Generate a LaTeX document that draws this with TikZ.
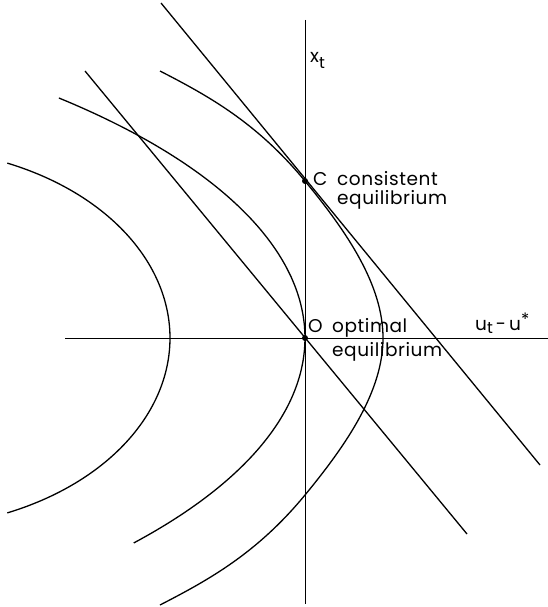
\documentclass[tikz,border=0pt]{standalone}
\usepackage{fontspec}
\setmainfont{Poppins}[LetterSpace=3]
\begin{document}
\begin{tikzpicture}[x=1pt,y=-1pt,
  axis/.style={line width=0.9pt,black},
  curve/.style={line width=1.3pt,black},
  lbl/.style={anchor=base west,inner sep=0pt,font=\fontsize{18.5}{22}\selectfont},
  dotmark/.style={circle,fill=black,inner sep=0pt,minimum size=6pt}]
\useasboundingbox (0,0) rectangle (548,607);
% axes
\coordinate (vtop) at (305,20);
\coordinate (vbot) at (305,604);
\coordinate (hleft) at (65,338);
\coordinate (hright) at (548,338);
\draw[axis] (vtop) -- (vbot);
\draw[axis] (hleft) -- (hright);
% Phillips lines
\coordinate (l1a) at (161,3);
\coordinate (l1b) at (540,465);
\coordinate (l2a) at (85,71);
\coordinate (l2b) at (467,534);
\draw[curve] (l1a) -- (l1b);
\draw[curve] (l2a) -- (l2b);
% indifference curves
\draw[curve] plot[domain=-67:67,samples=120] ({-97+267*cos(\x)},{338+190*sin(\x)});
\draw[curve] plot[domain=-43.3:35.85,samples=120] ({-599+904*cos(\x)},{338+350*sin(\x)});
\coordinate (ctop) at (160,71);
\coordinate (cpt) at (305,181);
\coordinate (cv) at (383,338);
\coordinate (cpb) at (305,495);
\coordinate (cbot) at (160,605);
\draw[curve] (ctop) .. controls (208.3,95.9) and (256.7,122.4) .. (cpt)
  .. controls (348.1,233.3) and (383,285.7) .. (cv)
  .. controls (383,390.3) and (348.1,442.7) .. (cpb)
  .. controls (256.7,553.6) and (208.3,580.1) .. (cbot);
% points
\node[dotmark] (C) at (305,181) {};
\node[dotmark] (O) at (305,338) {};
% labels
\node[lbl] (xt) at (310,63) {x\raisebox{-6pt}{\fontsize{16}{16}\selectfont t}};
\node[lbl] (uu) at (475,330) {u\raisebox{-3pt}{\fontsize{16}{16}\selectfont t}\,-\,u\raisebox{5pt}{\fontsize{17}{17}\selectfont *}};
\node[lbl] (Clab) at (313,185) {C};
\node[lbl] (cons) at (337,185) {consistent};
\node[lbl] (ceq) at (337,204) {equilibrium};
\node[lbl] (Olab) at (308,332) {O};
\node[lbl] (opt) at (332,332) {optimal};
\node[lbl] (oeq) at (332,356) {equilibrium};
\end{tikzpicture}
\end{document}
